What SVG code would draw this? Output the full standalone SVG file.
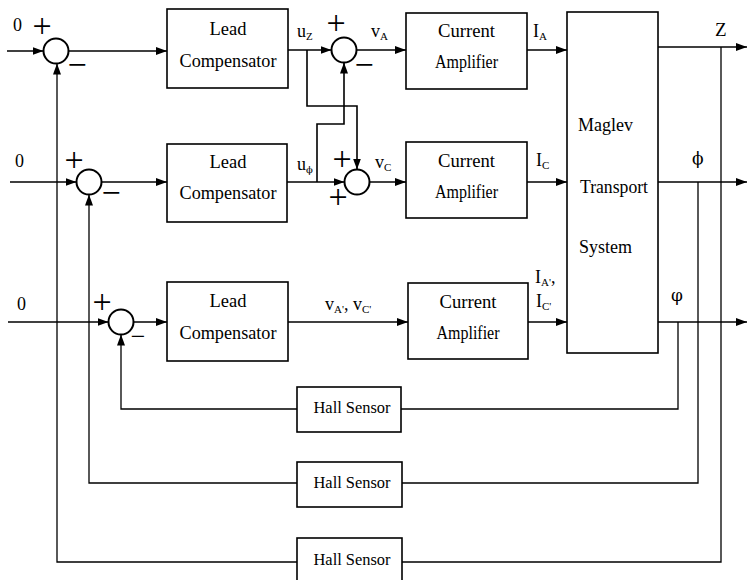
<svg xmlns="http://www.w3.org/2000/svg" width="747" height="580" viewBox="0 0 747 580">
<defs>
<marker id="arr" markerUnits="userSpaceOnUse" markerWidth="11" markerHeight="8" refX="11" refY="4" orient="auto">
<path d="M0,0 L11,4 L0,8 z" fill="#000"/>
</marker>
<style>
.box{fill:#fff;stroke:#000;stroke-width:1.6}
.sum{fill:#fff;stroke:#000;stroke-width:2}
.ln{fill:none;stroke:#000;stroke-width:1.6}
.fb{fill:none;stroke:#000;stroke-width:1.3}
.a{marker-end:url(#arr)}
.t{font-family:"Liberation Serif","Times New Roman",serif;font-size:19px;fill:#000;text-anchor:middle}
.tl{font-family:"Liberation Serif","Times New Roman",serif;font-size:19px;fill:#000}
.h{font-family:"Liberation Serif","Times New Roman",serif;font-size:16px;fill:#000;text-anchor:middle}
.lb{font-family:"Liberation Serif","Times New Roman",serif;font-size:18px;fill:#000}
.sb{font-size:11px}
.gs{font-family:"DejaVu Serif",serif;font-size:10px}
.g{font-family:"DejaVu Serif",serif;font-size:17px;fill:#000}
.z{font-family:"Liberation Serif","Times New Roman",serif;font-size:18px;fill:#000}
.s{font-family:"Liberation Serif","Times New Roman",serif;font-size:34px;fill:#000;text-anchor:middle}
</style>
</defs>
<rect width="747" height="580" fill="#fff"/>

<g id="connectors">
<!-- row 1 -->
<path class="ln a" d="M7,51 H43.5"/>
<path class="ln a" d="M68.5,51 H167"/>
<path class="ln a" d="M288,50 H331.5"/>
<path class="ln a" d="M307,50 V106 H357 V169.5"/>
<path class="ln a" d="M356.5,50 H406"/>
<path class="ln a" d="M527,50 H567"/>
<path class="ln a" d="M658,47 H747"/>
<path class="fb" d="M721,47 V562 H402"/>
<path class="fb a" d="M297,562 H57 V63.5"/>
<!-- row 2 -->
<path class="ln a" d="M10,182 H76.5"/>
<path class="ln a" d="M101.5,182 H167"/>
<path class="ln a" d="M287,182 H344.5"/>
<path class="ln a" d="M317,182 V124 H344 V62.5"/>
<path class="ln a" d="M369.5,182 H406"/>
<path class="ln a" d="M527,182 H567"/>
<path class="ln a" d="M658,182 H747"/>
<path class="fb" d="M698,182 V483 H402"/>
<path class="fb a" d="M297,483 H89 V194.5"/>
<!-- row 3 -->
<path class="ln a" d="M8,322 H108.5"/>
<path class="ln a" d="M133.5,322 H167"/>
<path class="ln a" d="M288,322 H408"/>
<path class="ln a" d="M528,322 H567"/>
<path class="ln a" d="M658,322 H747"/>
<path class="fb" d="M678,322 V409 H401"/>
<path class="fb a" d="M297,409 H121 V334.5"/>
</g>

<g id="sum1"><circle class="sum" cx="56" cy="51" r="12.5"/>
<text class="z" x="13" y="31">0</text>
<text class="s" x="42" y="37">+</text><text class="s" x="77" y="76">−</text></g>
<g id="sum2"><circle class="sum" cx="344" cy="50" r="12.5"/>
<text class="s" x="336" y="34">+</text><text class="s" x="364" y="76">−</text></g>
<g id="sum3"><circle class="sum" cx="89" cy="182" r="12.5"/>
<text class="z" x="15" y="167">0</text>
<text class="s" x="74" y="171">+</text><text class="s" x="111" y="204">−</text></g>
<g id="sum4"><circle class="sum" cx="357" cy="182" r="12.5"/>
<text class="s" x="342" y="170">+</text><text class="s" x="338" y="208">+</text></g>
<g id="sum5"><circle class="sum" cx="121" cy="322" r="12.5"/>
<text class="z" x="17" y="310">0</text>
<text class="s" x="102" y="313">+</text><text class="s" x="138" y="345" style="font-size:26px">−</text></g>

<g id="lead1"><rect class="box" x="167" y="9" width="121" height="79"/>
<text class="t" x="228" y="35" textLength="37" lengthAdjust="spacingAndGlyphs">Lead</text>
<text class="t" x="228" y="67" textLength="97" lengthAdjust="spacingAndGlyphs">Compensator</text></g>
<g id="lead2"><rect class="box" x="167" y="144" width="120" height="78"/>
<text class="t" x="228" y="168" textLength="37" lengthAdjust="spacingAndGlyphs">Lead</text>
<text class="t" x="228" y="199" textLength="97" lengthAdjust="spacingAndGlyphs">Compensator</text></g>
<g id="lead3"><rect class="box" x="167" y="282" width="121" height="79"/>
<text class="t" x="228" y="307" textLength="37" lengthAdjust="spacingAndGlyphs">Lead</text>
<text class="t" x="228" y="339" textLength="97" lengthAdjust="spacingAndGlyphs">Compensator</text></g>

<g id="amp1"><rect class="box" x="406" y="13" width="121" height="76"/>
<text class="t" x="466.5" y="37" textLength="57" lengthAdjust="spacingAndGlyphs">Current</text>
<text class="t" x="466.5" y="68" textLength="63" lengthAdjust="spacingAndGlyphs">Amplifier</text></g>
<g id="amp2"><rect class="box" x="406" y="142" width="121" height="76"/>
<text class="t" x="466.5" y="167" textLength="57" lengthAdjust="spacingAndGlyphs">Current</text>
<text class="t" x="466.5" y="198" textLength="63" lengthAdjust="spacingAndGlyphs">Amplifier</text></g>
<g id="amp3"><rect class="box" x="408" y="283" width="120" height="76"/>
<text class="t" x="468" y="308" textLength="57" lengthAdjust="spacingAndGlyphs">Current</text>
<text class="t" x="468" y="339" textLength="63" lengthAdjust="spacingAndGlyphs">Amplifier</text></g>

<g id="maglev"><rect class="box" x="567" y="12" width="91" height="341"/>
<text class="tl" x="578" y="131" textLength="55" lengthAdjust="spacingAndGlyphs">Maglev</text>
<text class="tl" x="580" y="193" textLength="68" lengthAdjust="spacingAndGlyphs">Transport</text>
<text class="tl" x="579" y="253" textLength="53" lengthAdjust="spacingAndGlyphs">System</text></g>

<g id="hall1"><rect class="box" x="297" y="387" width="104" height="45"/>
<text class="h" x="352" y="413" textLength="77" lengthAdjust="spacingAndGlyphs">Hall Sensor</text></g>
<g id="hall2"><rect class="box" x="297" y="462" width="105" height="45"/>
<text class="h" x="352" y="488" textLength="77" lengthAdjust="spacingAndGlyphs">Hall Sensor</text></g>
<g id="hall3"><rect class="box" x="297" y="538" width="105" height="48"/>
<text class="h" x="352" y="565" textLength="77" lengthAdjust="spacingAndGlyphs">Hall Sensor</text></g>

<g id="labels">
<text class="lb" x="297" y="37">u<tspan class="sb" dy="3">Z</tspan></text>
<text class="lb" x="371" y="37">v<tspan class="sb" dy="3">A</tspan></text>
<text class="lb" x="297" y="170">u<tspan class="gs" dy="3">ϕ</tspan></text>
<text class="lb" x="375" y="168">v<tspan class="sb" dy="3">C</tspan></text>
<text class="lb" x="533" y="37">I<tspan class="sb" dy="3">A</tspan></text>
<text class="lb" x="536" y="166">I<tspan class="sb" dy="3">C</tspan></text>
<text class="lb" x="535" y="283">I<tspan class="sb" dy="3">A'</tspan><tspan dy="-3">,</tspan></text>
<text class="lb" x="536" y="307">I<tspan class="sb" dy="3">C'</tspan></text>
<text class="lb" x="325" y="310">v<tspan class="sb" dy="3">A'</tspan><tspan dy="-3">, v</tspan><tspan class="sb" dy="3">C'</tspan></text>
<text class="lb" x="715" y="36" style="font-size:19px">Z</text>
<text class="g" x="692" y="164">ϕ</text>
<text class="g" x="671" y="301">φ</text>
</g>
</svg>
